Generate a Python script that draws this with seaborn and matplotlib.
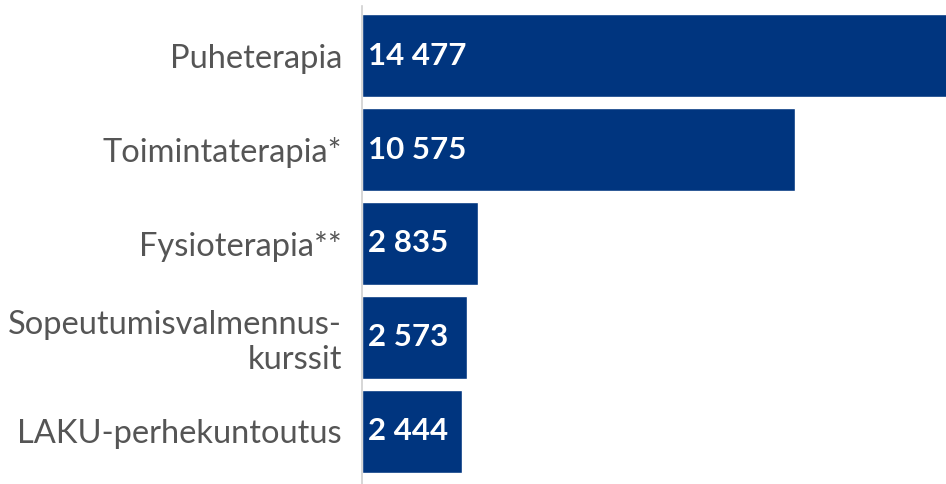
import matplotlib
matplotlib.use("Agg")
import matplotlib.pyplot as plt
import seaborn as sns
import pandas as pd

categories = ["Puheterapia", "Toimintaterapia*", "Fysioterapia**",
              "Sopeutumisvalmennus-\nkurssit", "LAKU-perhekuntoutus"]
values = [14477, 10575, 2835, 2573, 2444]
value_labels = ["14 477", "10 575", "2 835", "2 573", "2 444"]

df = pd.DataFrame({"category": categories, "value": values})

sns.set_style("white")
plt.rcParams["font.family"] = ["Lato", "DejaVu Sans"]

fig = plt.figure(figsize=(9.46, 4.84), dpi=100)
ax = fig.add_axes([361.5 / 946, 0, 1 - 361.5 / 946, 1 - 6 / 484])

sns.barplot(data=df, x="value", y="category", orient="h", color="#00357f",
            saturation=1, width=0.88, ax=ax)

for i, lab in enumerate(value_labels):
    ax.text(150, i, lab, color="white", fontsize=22.5, fontweight="bold",
            va="center", ha="left")

ax.set_xlim(0, 14256)
ax.set_ylim(4.559, -0.527)
ax.set_xlabel("")
ax.set_ylabel("")
ax.set_xticks([])
ax.tick_params(axis="y", length=0, pad=14, labelsize=23.5, labelcolor="#555555")
for s in ["top", "right", "bottom"]:
    ax.spines[s].set_visible(False)
ax.spines["left"].set_color("#d0d0d0")
ax.spines["left"].set_linewidth(1.2)

fig.savefig("out.png", dpi=100)
